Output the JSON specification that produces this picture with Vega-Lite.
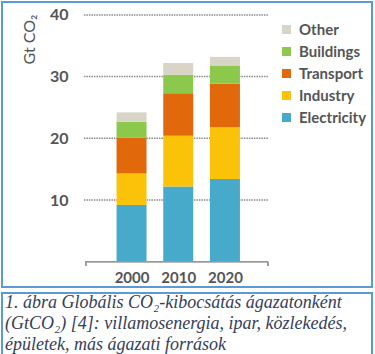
{
  "$schema": "https://vega.github.io/schema/vega-lite/v6.json",
  "padding": {"top": 1, "left": 1, "right": 4, "bottom": 1},
  "background": "white",
  "spacing": 4,
  "config": {
    "view": {"stroke": "#5B9BD5", "strokeWidth": 2},
    "font": "Lato"
  },
  "datasets": {
    "emissions": [
      {"year": 2000, "sector": "Electricity", "gt": 9.2},
      {"year": 2000, "sector": "Industry", "gt": 5.1},
      {"year": 2000, "sector": "Transport", "gt": 5.8},
      {"year": 2000, "sector": "Buildings", "gt": 2.6},
      {"year": 2000, "sector": "Other", "gt": 1.5},
      {"year": 2010, "sector": "Electricity", "gt": 12.2},
      {"year": 2010, "sector": "Industry", "gt": 8.2},
      {"year": 2010, "sector": "Transport", "gt": 6.9},
      {"year": 2010, "sector": "Buildings", "gt": 3.0},
      {"year": 2010, "sector": "Other", "gt": 1.9},
      {"year": 2020, "sector": "Electricity", "gt": 13.4},
      {"year": 2020, "sector": "Industry", "gt": 8.4},
      {"year": 2020, "sector": "Transport", "gt": 7.1},
      {"year": 2020, "sector": "Buildings", "gt": 2.9},
      {"year": 2020, "sector": "Other", "gt": 1.4}
    ],
    "grid": [{"v": 10}, {"v": 20}, {"v": 30}, {"v": 40}],
    "caption": [
      {"line": 1, "text": "1. ábra Globális CO₂-kibocsátás ágazatonként"},
      {"line": 2, "text": "(GtCO₂) [4]: villamosenergia, ipar, közlekedés,"},
      {"line": 3, "text": "épületek, más ágazati források"}
    ]
  },
  "vconcat": [
    {
      "width": 370,
      "height": 285,
      "layer": [
        {
          "data": {"name": "grid"},
          "mark": {"type": "rule", "color": "#8a8a8a", "strokeWidth": 1.5, "strokeDash": [1.5, 1]},
          "encoding": {
            "y": {"field": "v", "type": "quantitative"},
            "x": {"datum": 1989.8, "type": "quantitative"},
            "x2": {"datum": 2029.4}
          }
        },
        {
          "data": {"name": "emissions"},
          "transform": [
            {"calculate": "indexof(['Electricity','Industry','Transport','Buildings','Other'], datum.sector)", "as": "stackIndex"}
          ],
          "mark": {"type": "bar", "size": 30},
          "encoding": {
            "x": {
              "field": "year", "type": "quantitative",
              "scale": {"domain": [1973.33, 2050.42], "nice": false, "zero": false},
              "axis": {
                "values": [2000, 2010, 2020], "format": "d", "offset": -25,
                "domain": false, "ticks": false, "grid": false, "labelPadding": 8,
                "labelFontSize": 15, "labelColor": "#555555", "labelFontWeight": "bold", "title": null
              }
            },
            "y": {
              "field": "gt", "type": "quantitative", "stack": "zero",
              "scale": {"domain": [-4.1, 42.09], "nice": false, "zero": false},
              "axis": {
                "values": [10, 20, 30, 40], "offset": -70, "domain": false, "ticks": false, "grid": false,
                "labelPadding": 4, "labelFontSize": 16, "labelColor": "#555555", "labelFontWeight": "bold",
                "title": "Gt CO₂", "titleFontSize": 16, "titleFontWeight": "normal", "titleColor": "#555555",
                "titleAngle": -90, "titleX": -43, "titleY": 37, "titleAlign": "center", "titleBaseline": "middle"
              }
            },
            "order": {"field": "stackIndex", "type": "quantitative", "sort": "ascending"},
            "color": {
              "field": "sector", "type": "nominal",
              "sort": ["Other", "Buildings", "Transport", "Industry", "Electricity"],
              "scale": {
                "domain": ["Other", "Buildings", "Transport", "Industry", "Electricity"],
                "range": ["#D8D4C6", "#8CC84B", "#E2690B", "#FBC20A", "#47AACB"]
              },
              "legend": {
                "orient": "none", "legendX": 277, "legendY": 20, "title": null, "padding": 0,
                "symbolType": "square", "symbolSize": 81, "symbolStrokeWidth": 0,
                "labelFontSize": 15, "labelColor": "#555555", "labelFontWeight": "bold", "labelOffset": 5,
                "rowPadding": 6
              }
            }
          }
        },
        {
          "data": {"name": "grid"},
          "mark": {"type": "rule", "color": "#999999", "strokeWidth": 1.2},
          "encoding": {
            "y": {"datum": 0, "type": "quantitative"},
            "x": {"datum": 1990.2, "type": "quantitative"},
            "x2": {"datum": 2029.2}
          }
        },
        {
          "data": {"name": "grid"},
          "mark": {"type": "rule", "color": "#999999", "strokeWidth": 1.2},
          "encoding": {
            "y": {"datum": 0, "type": "quantitative"},
            "y2": {"datum": -0.7},
            "x": {"datum": 1990.2, "type": "quantitative"}
          }
        },
        {
          "data": {"name": "grid"},
          "mark": {"type": "rule", "color": "#999999", "strokeWidth": 1.2},
          "encoding": {
            "y": {"datum": 0, "type": "quantitative"},
            "y2": {"datum": -0.7},
            "x": {"datum": 2029.2, "type": "quantitative"}
          }
        }
      ]
    },
    {
      "width": 370,
      "height": 62,
      "data": {"name": "caption"},
      "mark": {"type": "text", "align": "left", "baseline": "middle", "font": "Liberation Serif", "fontStyle": "italic", "fontSize": 18, "color": "#34405A", "dx": 3},
      "encoding": {
        "x": {"datum": 0, "type": "quantitative", "scale": {"domain": [0, 1]}, "axis": null},
        "y": {"field": "line", "type": "ordinal", "axis": null, "scale": {"paddingOuter": 0.1}},
        "text": {"field": "text"}
      }
    }
  ],
  "resolve": {"scale": {"x": "independent", "y": "independent", "color": "independent"}}
}
